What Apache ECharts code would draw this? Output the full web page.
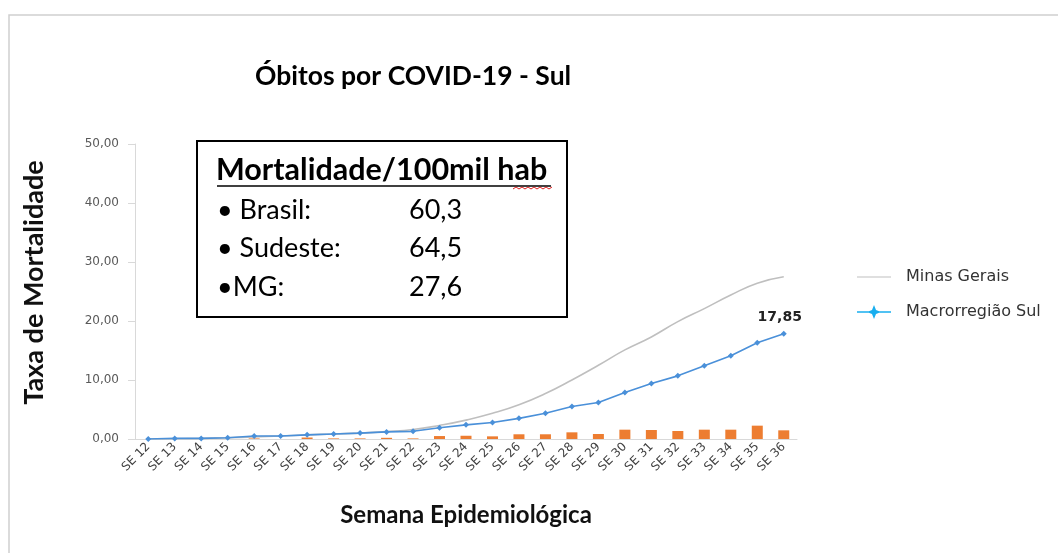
<!DOCTYPE html>
<html>
<head>
<meta charset="utf-8">
<script src="https://cdn.jsdelivr.net/npm/echarts@6/dist/echarts.min.js"></script>
<style>
  html, body { margin: 0; padding: 0; background: #fff; }
  #chart { width: 1058px; height: 553px; }
</style>
</head>
<body>
<div id="chart"></div>
<script>
// semanas epidemiológicas
const weeks = ['SE 12', 'SE 13', 'SE 14', 'SE 15', 'SE 16', 'SE 17', 'SE 18', 'SE 19', 'SE 20',
  'SE 21', 'SE 22', 'SE 23', 'SE 24', 'SE 25', 'SE 26', 'SE 27', 'SE 28', 'SE 29', 'SE 30',
  'SE 31', 'SE 32', 'SE 33', 'SE 34', 'SE 35', 'SE 36']

// taxa acumulada - Minas Gerais
const minasGerais = [0, 0.05, 0.1, 0.2, 0.35, 0.5, 0.7, 0.85, 1.0, 1.25, 1.6, 2.3, 3.2, 4.35,
  5.8, 7.7, 10.0, 12.5, 15.1, 17.3, 19.9, 22.1, 24.4, 26.4, 27.5]

// taxa acumulada - Macrorregião Sul
const macroSul = [0, 0.1, 0.1, 0.2, 0.5, 0.5, 0.7, 0.85, 1.0, 1.2, 1.3, 1.9, 2.4, 2.8,
  3.5, 4.35, 5.5, 6.2, 7.9, 9.4, 10.7, 12.4, 14.1, 16.3, 17.85]

// taxa semanal (barras)
const semanal = [0, 0, 0, 0, 0.1, 0, 0.25, 0.1, 0.1, 0.2, 0.1, 0.5, 0.55, 0.45,
  0.8, 0.8, 1.13, 0.85, 1.58, 1.53, 1.36, 1.58, 1.58, 2.26, 1.47]

// quadro de mortalidade
const statLabels = ['• Brasil:', '• Sudeste:', '•MG:']
const statValues = ['60,3', '64,5', '27,6']

const calibri = 'Lato, "Open Sans", sans-serif'
const fmt = v => v.toFixed(2).replace('.', ',')

const chart = echarts.init(document.getElementById('chart'))

// textos do quadro
const boxTexts = []
statLabels.forEach((t, i) => {
  boxTexts.push({
    type: 'text', z: 12, x: 217, y: 210 + i * 38.5,
    style: { text: t, font: '27px ' + calibri, fill: '#000', textVerticalAlign: 'middle' }
  })
  boxTexts.push({
    type: 'text', z: 12, x: 409, y: 210 + i * 38.5,
    style: { text: statValues[i], font: '27px ' + calibri, fill: '#000', textVerticalAlign: 'middle' }
  })
})

chart.setOption({
  animation: false,
  title: {
    text: 'Óbitos por COVID-19 - Sul',
    left: 250, top: 58,
    textStyle: { fontFamily: calibri, fontSize: 26.5, fontWeight: 'bold', color: '#000' }
  },
  legend: {
    orient: 'vertical',
    left: 852, top: 264,
    itemWidth: 34, itemHeight: 14, itemGap: 19,
    textStyle: { fontFamily: 'DejaVu Sans', fontSize: 16, color: '#333', padding: [0, 0, 0, 10] },
    data: [
      { name: 'Minas Gerais', icon: 'path://M0,6.5L34,6.5L34,7.6L0,7.6Z', itemStyle: { color: '#BFBFBF' } },
      { name: 'Macrorregião Sul', icon: 'path://M0,6.3L34,6.3L34,7.7L0,7.7ZM17,0L19,5L24,7L19,9L17,14L15,9L10,7L15,5Z', itemStyle: { color: '#18AEEF' } }
    ]
  },
  grid: { left: 135, right: 261, top: 144, bottom: 114 },
  xAxis: {
    type: 'category',
    data: weeks,
    name: 'Semana Epidemiológica',
    nameLocation: 'middle',
    nameGap: 64,
    nameTextStyle: { fontFamily: calibri, fontSize: 24, fontWeight: 'bold', color: '#111' },
    axisLine: { lineStyle: { color: '#D9D9D9' } },
    axisTick: { length: 5, lineStyle: { color: '#D9D9D9' } },
    axisLabel: { rotate: 45, interval: 0, fontFamily: 'DejaVu Sans', fontSize: 12, color: '#404040', margin: 6 }
  },
  yAxis: {
    type: 'value',
    min: 0, max: 50, interval: 10,
    name: 'Taxa de Mortalidade',
    nameLocation: 'middle',
    nameGap: 87,
    nameRotate: 90,
    nameTextStyle: { fontFamily: calibri, fontSize: 27, fontWeight: 'bold', color: '#111', padding: [0, 0, 0, 18] },
    axisLine: { show: true, lineStyle: { color: '#D9D9D9' } },
    axisTick: { show: true, length: 7, lineStyle: { color: '#D9D9D9' } },
    splitLine: { show: false },
    axisLabel: { formatter: fmt, fontFamily: 'DejaVu Sans', fontSize: 12, color: '#595959', margin: 16 }
  },
  series: [
    {
      name: 'Óbitos semanais',
      type: 'bar',
      data: semanal,
      barWidth: 11,
      itemStyle: { color: '#ED7D31' },
      z: 1
    },
    {
      name: 'Minas Gerais',
      type: 'line',
      data: minasGerais,
      smooth: true,
      symbol: 'none',
      lineStyle: { color: '#BFBFBF', width: 1.6 },
      itemStyle: { color: '#BFBFBF' },
      z: 2
    },
    {
      name: 'Macrorregião Sul',
      type: 'line',
      data: macroSul,
      symbol: 'diamond',
      symbolSize: 6,
      lineStyle: { color: '#4A90D9', width: 1.6 },
      itemStyle: { color: '#4A90D9' },
      label: {
        show: true,
        formatter: p => p.dataIndex === macroSul.length - 1 ? fmt(p.value) : '',
        position: 'top',
        offset: [-4, -1],
        fontFamily: 'DejaVu Sans', fontSize: 14, fontWeight: 'bold', color: '#222'
      },
      z: 3
    }
  ],
  graphic: [
    // moldura externa
    {
      type: 'rect', shape: { x: 9, y: 15, width: 1100, height: 600 },
      style: { fill: 'none', stroke: '#D0D0D0', lineWidth: 1.5 }, silent: true
    },
    // quadro
    {
      type: 'rect', shape: { x: 197, y: 141, width: 370, height: 176 },
      style: { fill: '#fff', stroke: '#000', lineWidth: 2 }, z: 10
    },
    {
      type: 'text', z: 12, x: 216, y: 170,
      style: { text: 'Mortalidade/100mil hab', font: 'bold 30.5px ' + calibri, fill: '#000', textVerticalAlign: 'middle' }
    },
    {
      type: 'line', z: 12, shape: { x1: 217, y1: 186, x2: 551, y2: 186 },
      style: { stroke: '#000', lineWidth: 1.5 }
    },
    {
      type: 'polyline', z: 12,
      shape: { points: [[513, 189], [516, 187], [519, 189], [522, 187], [525, 189], [528, 187], [531, 189], [534, 187], [537, 189], [540, 187], [543, 189], [546, 187], [549, 189], [552, 187]] },
      style: { stroke: '#E02020', lineWidth: 1, fill: 'none' }
    }
  ].concat(boxTexts)
})
</script>
</body>
</html>
